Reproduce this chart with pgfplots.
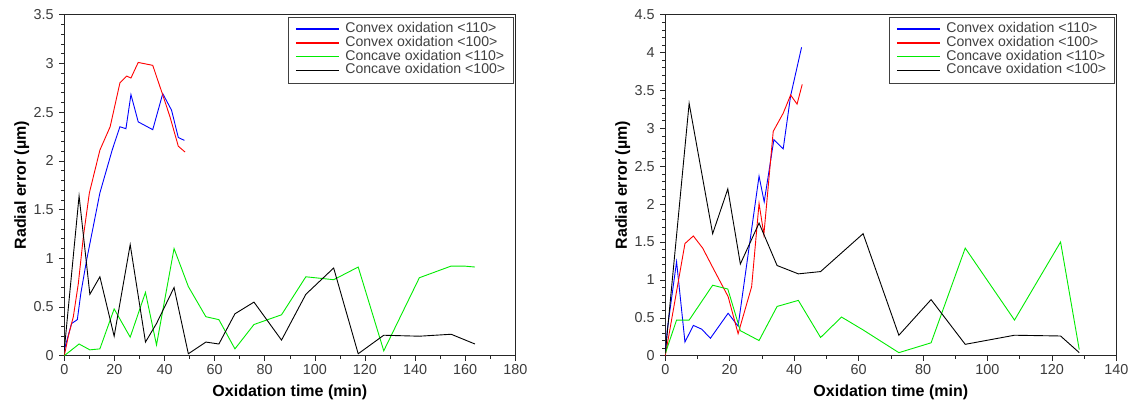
\documentclass[border=0pt]{standalone}
\usepackage{fontspec}
\setmainfont{Liberation Sans}
\usepackage{pgfplots}
\pgfplotsset{compat=1.18}
\definecolor{cgreen}{RGB}{0,235,0}
\definecolor{ticklab}{RGB}{60,60,60}
\pgfplotsset{
 myaxis/.style={
  scale only axis, width=451pt, height=341pt, anchor=south west,
  axis line style={black!85, line width=0.8pt},
  tick align=outside, xtick pos=bottom, ytick pos=left,
  major tick length=5pt, minor tick length=3pt,
  tick style={black!85, line width=0.6pt},
  /pgf/number format/assume math mode=true,
  ticklabel style={font=\fontsize{14.4}{14.4}\selectfont, text=ticklab},
  xticklabel style={anchor=base, yshift=-14pt},
  yticklabel style={anchor=east, inner sep=0pt, xshift=-5.5pt},
  every axis y label/.style={at={(axis description cs:-0.0854,0.5)}, rotate=90, anchor=base, font=\fontsize{16}{16}\selectfont\bfseries},
  every axis x label/.style={at={(axis description cs:0.5,-0.1202)}, anchor=base, font=\fontsize{16}{16}\selectfont\bfseries},
  xlabel={Oxidation time (min)}, ylabel={Radial error (µm)},
  minor x tick num=1, minor y tick num=4,
  ytick distance=0.5, xtick distance=20,
  xmin=0, ymin=0,
  legend style={at={(axis description cs:0.995,0.994)}, anchor=north east,
    draw=black!75, fill=white, outer sep=0pt,
    font=\fontsize{14.1}{14.1}\selectfont, text=black!75,
    inner xsep=7pt, inner ysep=5.5pt, row sep=0pt,
    /tikz/every odd column/.append style={column sep=5pt},
    nodes={text height=9.5pt, text depth=2.7pt, inner sep=0.8pt}},
  legend image code/.code={\draw[#1, line width=1.3pt] (0pt,0pt) -- (43pt,0pt);},
  legend cell align=left,
  every axis plot/.append style={line width=0.9pt},
 }
}
\begin{document}
\begin{tikzpicture}
\useasboundingbox (0,0) rectangle (1130pt,403pt);
\begin{axis}[myaxis, at={(64.3pt,47.3pt)}, xmax=180, ymax=3.5]
\addplot[blue] coordinates {(0,0.06) (2.9,0.33) (5.2,0.37) (6.6,0.64) (8.9,0.98) (14.2,1.67) (19.1,2.11) (22.2,2.35) (24.6,2.33) (26.6,2.68) (29.5,2.40) (35.3,2.32) (39.3,2.69) (42.8,2.52) (45.5,2.24) (47.9,2.21)};
\addlegendentry{Convex oxidation <110>}
\addplot[red] coordinates {(0,0) (1.6,0.2) (3.6,0.40) (5.6,0.74) (7.6,1.22) (10,1.67) (14.2,2.11) (18.3,2.35) (22.2,2.80) (24.9,2.87) (26.6,2.85) (29.5,3.01) (35.3,2.98) (39.5,2.66) (42.2,2.45) (45.5,2.15) (48.2,2.09)};
\addlegendentry{Convex oxidation <100>}
\addplot[cgreen] coordinates {(0,0) (5.9,0.12) (10.2,0.06) (14.2,0.07) (19.9,0.48) (26.3,0.19) (32.4,0.65) (36.8,0.11) (43.8,1.10) (49.5,0.71) (56.5,0.40) (61.7,0.37) (68.1,0.07) (75.7,0.32) (86.7,0.42) (96.4,0.81) (107.5,0.78) (117.3,0.91) (127.5,0.05) (141.7,0.80) (154.4,0.92) (159.5,0.92) (163.9,0.91)};
\addlegendentry{Concave oxidation <110>}
\addplot[black] coordinates {(0,0.06) (5.9,1.64) (10.2,0.63) (14.2,0.81) (19.9,0.20) (26.3,1.14) (32.4,0.14) (36.8,0.33) (43.8,0.70) (49.5,0.02) (56.5,0.14) (61.7,0.12) (68.1,0.43) (75.7,0.55) (86.7,0.16) (96.4,0.63) (107.5,0.90) (117.3,0.02) (127.5,0.21) (141.7,0.20) (154.4,0.22) (163.9,0.12)};
\addlegendentry{Concave oxidation <100>}
\end{axis}
\begin{axis}[myaxis, at={(665.3pt,47.3pt)}, xmax=140, ymax=4.5]
\addplot[blue] coordinates {(0,0.03) (0.6,0.34) (3.5,1.24) (6.1,0.18) (8.7,0.40) (11.3,0.35) (14.0,0.23) (19.5,0.56) (22.6,0.39) (29.1,2.37) (30.7,2.03) (33.7,2.85) (36.6,2.73) (38.9,3.43) (42.3,4.07)};
\addlegendentry{Convex oxidation <110>}
\addplot[red] coordinates {(0,0) (6.1,1.48) (8.7,1.58) (11.6,1.42) (14.9,1.15) (19.5,0.78) (22.6,0.29) (26.8,0.91) (29.1,2.01) (30.6,1.60) (33.5,2.96) (36.6,3.20) (38.9,3.44) (40.9,3.32) (42.5,3.58)};
\addlegendentry{Convex oxidation <100>}
\addplot[cgreen] coordinates {(0,0.03) (3.5,0.47) (7.4,0.47) (14.7,0.93) (19.4,0.88) (23.3,0.33) (29.1,0.20) (34.7,0.65) (41.3,0.73) (48.2,0.24) (54.7,0.51) (61.4,0.34) (72.5,0.04) (82.5,0.17) (93.1,1.42) (108.4,0.47) (122.7,1.50) (128.5,0.08)};
\addlegendentry{Concave oxidation <110>}
\addplot[black] coordinates {(0,0.03) (7.4,3.33) (14.7,1.61) (19.4,2.20) (23.3,1.21) (29.1,1.75) (34.7,1.19) (41.3,1.08) (48.2,1.11) (61.4,1.61) (72.5,0.27) (82.5,0.74) (93.1,0.15) (108.4,0.27) (122.7,0.26) (128.5,0.04)};
\addlegendentry{Concave oxidation <100>}
\end{axis}
\end{tikzpicture}
\end{document}
